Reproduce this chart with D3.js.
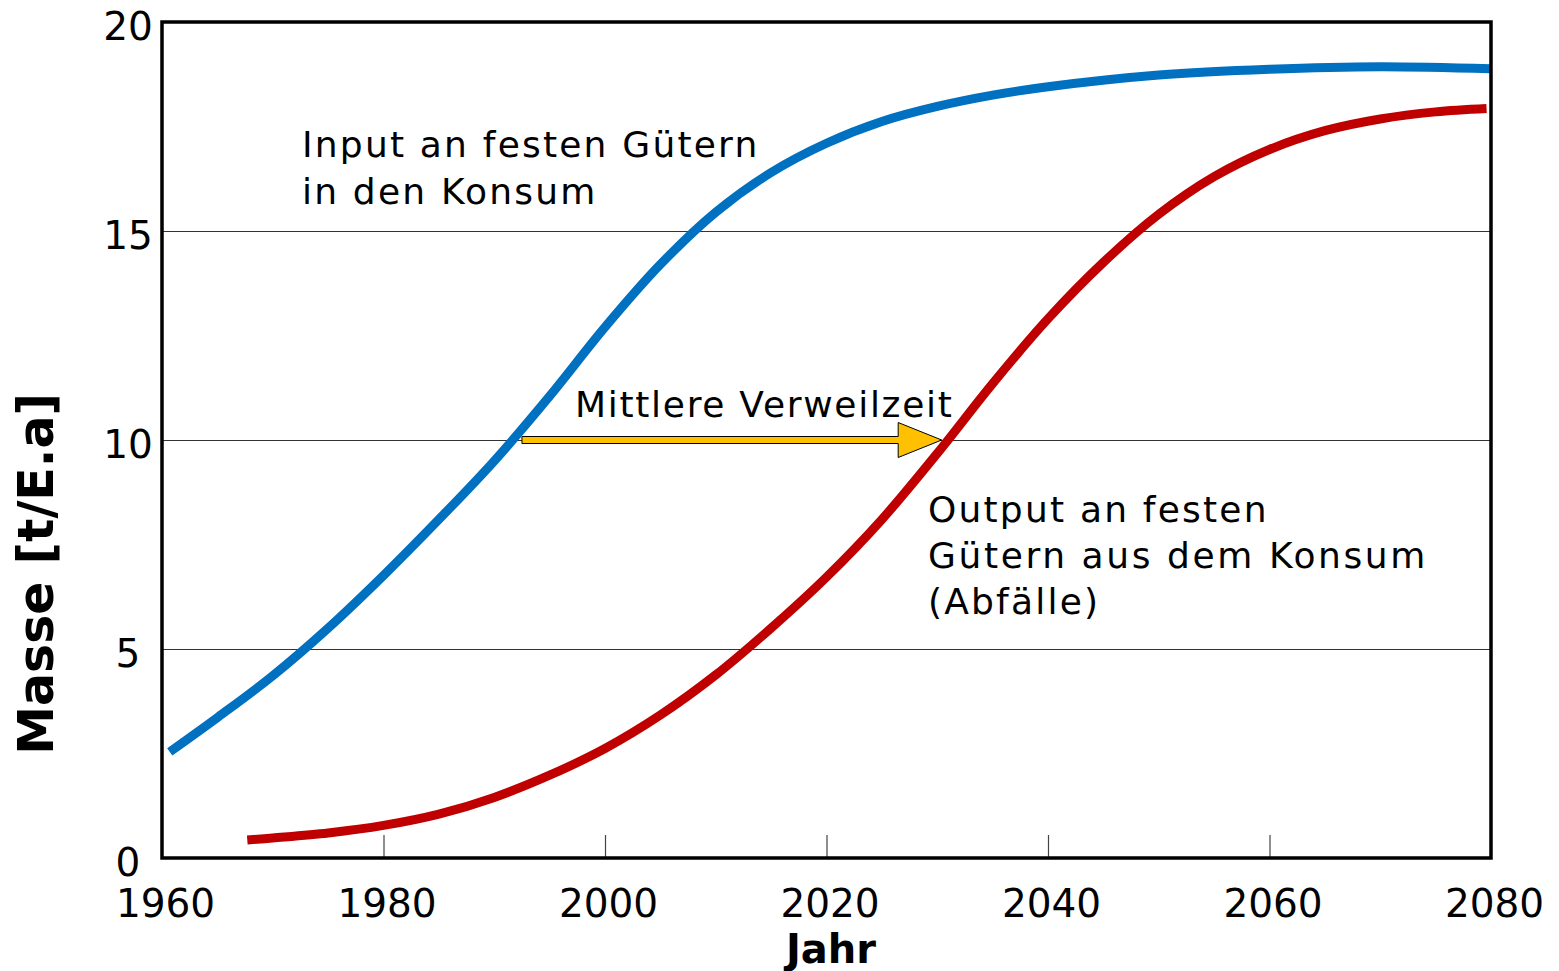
<!DOCTYPE html>
<html><head><meta charset="utf-8">
<script src="https://cdn.jsdelivr.net/npm/d3@7"></script>
<style>
body{margin:0;background:#fff}
svg{display:block;background:#fff}
text{font-family:"DejaVu Sans",Verdana,sans-serif;fill:#000}
</style>
</head><body>
<svg id="chart" width="1559" height="971"></svg>
<script>
// ---- data ----
const inputYears  = [1960.7, 1965, 1970, 1975, 1980, 1985, 1990, 1995, 2000, 2005, 2010, 2015, 2020, 2025, 2030, 2035, 2040, 2050, 2060, 2070, 2080];
const inputValues = [2.54, 3.36, 4.36, 5.5, 6.76, 8.1, 9.5, 11.05, 12.7, 14.2, 15.45, 16.4, 17.1, 17.62, 17.98, 18.25, 18.45, 18.73, 18.87, 18.93, 18.88];
const outputYears  = [1967.7, 1970, 1975, 1980, 1985, 1990, 1995, 2000, 2005, 2010, 2015, 2020, 2025, 2030, 2035, 2040, 2045, 2050, 2055, 2060, 2065, 2070, 2075, 2079.6];
const outputValues = [0.43, 0.48, 0.6, 0.78, 1.05, 1.45, 1.98, 2.62, 3.42, 4.38, 5.5, 6.72, 8.1, 9.68, 11.35, 12.9, 14.25, 15.4, 16.3, 16.95, 17.4, 17.68, 17.85, 17.93];
const xTickValues = [1960, 1980, 2000, 2020, 2040, 2060, 2080];
const xInnerTicks = [1980, 2000, 2020, 2040, 2060];
const yTickValues = [0, 5, 10, 15, 20];
const gridValues  = [5, 10, 15];
const inputLabel  = ["Input an festen Gütern", "in den Konsum"];
const outputLabel = ["Output an festen", "Gütern aus dem Konsum", "(Abfälle)"];
const arrowLabel  = "Mittlere Verweilzeit";
const arrowFrom = 1992.5, arrowTo = 2030.4, arrowValue = 10;
const xTitle = "Jahr";
const yTitle = "Masse [t/E.a]";

// ---- layout ----
const L = 162, R = 1491, T = 22, B = 858;
const svg = d3.select("#chart");
const x = d3.scaleLinear().domain([1960, 2080]).range([L, R]);
const y = d3.scaleLinear().domain([0, 20]).range([B, T]);

svg.append("defs").append("clipPath").attr("id", "plotclip")
  .append("rect").attr("x", L).attr("y", T).attr("width", R - L).attr("height", B - T);

// gridlines
const grid = svg.append("g").attr("transform", `translate(${L},0)`)
  .call(d3.axisLeft(y).tickValues(gridValues).tickSize(-(R - L)).tickFormat(""));
grid.select(".domain").remove();
grid.selectAll("line").attr("stroke", "#333").attr("stroke-width", 1.2);

// inner x ticks
const inner = svg.append("g").attr("transform", `translate(0,${B})`)
  .call(d3.axisTop(x).tickValues(xInnerTicks).tickSize(23).tickFormat(""));
inner.select(".domain").remove();
inner.selectAll("line").attr("stroke", "#444").attr("stroke-width", 1.2);

// x tick labels
const xa = svg.append("g").attr("transform", `translate(0,${B})`)
  .call(d3.axisBottom(x).tickValues(xTickValues).tickSize(0).tickFormat(d3.format("d")));
xa.select(".domain").remove();
xa.selectAll("text").attr("y", 59).attr("dy", 0).attr("dx", 3)
  .style("font-size", "39px").attr("fill", "#000");

// y tick labels
const ya = svg.append("g").attr("transform", `translate(${L},0)`)
  .call(d3.axisLeft(y).tickValues(yTickValues).tickSize(0));
ya.select(".domain").remove();
ya.selectAll("text").attr("x", -34).attr("dy", 0).attr("y", 17)
  .attr("text-anchor", "middle").style("font-size", "39px").attr("fill", "#000");

// arrow
const ax0 = x(arrowFrom), ax1 = x(arrowTo), ay = y(arrowValue);
const shaftH = 3.5, headH = 17.5, headL = 43.5;
const arrowPath = d3.path();
arrowPath.moveTo(ax0, ay - shaftH);
arrowPath.lineTo(ax1 - headL, ay - shaftH);
arrowPath.lineTo(ax1 - headL, ay - headH);
arrowPath.lineTo(ax1, ay);
arrowPath.lineTo(ax1 - headL, ay + headH);
arrowPath.lineTo(ax1 - headL, ay + shaftH);
arrowPath.lineTo(ax0, ay + shaftH);
arrowPath.closePath();
svg.append("path").attr("d", arrowPath.toString())
  .attr("fill", "#FFC000").attr("stroke", "#000").attr("stroke-width", 1);

// curves
const line = d3.line().x(d => x(d[0])).y(d => y(d[1])).curve(d3.curveCatmullRom.alpha(0.5));
const curves = svg.append("g").attr("clip-path", "url(#plotclip)");
curves.append("path").datum(d3.zip(inputYears, inputValues))
  .attr("d", line).attr("fill", "none").attr("stroke", "#0070C0").attr("stroke-width", 9);
curves.append("path").datum(d3.zip(outputYears, outputValues))
  .attr("d", line).attr("fill", "none").attr("stroke", "#C00000").attr("stroke-width", 9);

// frame
svg.append("rect").attr("x", L).attr("y", T).attr("width", R - L).attr("height", B - T)
  .attr("fill", "none").attr("stroke", "#000").attr("stroke-width", 3.5);

// annotations
const ann = svg.append("g").style("font-size", "36px").style("letter-spacing", "2.2px");
ann.selectAll("text.in").data(inputLabel).join("text").attr("class", "in")
  .attr("x", 302).attr("y", (d, i) => 157 + i * 46.5).text(d => d);
ann.selectAll("text.out").data(outputLabel).join("text").attr("class", "out")
  .attr("x", 928).attr("y", (d, i) => 522 + i * 46)
  .style("letter-spacing", (d, i) => i === 1 ? "2.6px" : "2.2px").text(d => d);
ann.append("text").attr("x", 575).attr("y", 417).style("letter-spacing", "1.7px").text(arrowLabel);

// axis titles
svg.append("text").attr("x", 831).attr("y", 963).attr("text-anchor", "middle")
  .style("font-size", "40px").style("font-weight", "bold").text(xTitle);
svg.append("text").attr("transform", "translate(53,574) rotate(-90)").attr("text-anchor", "middle")
  .style("font-size", "49px").style("font-weight", "bold").text(yTitle);
</script>
</body></html>
